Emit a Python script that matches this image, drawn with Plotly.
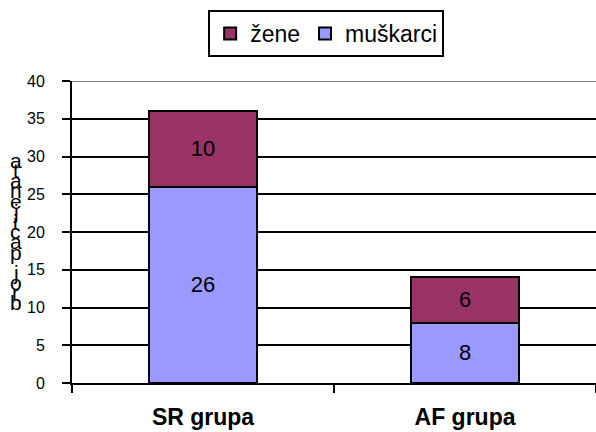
import plotly.graph_objects as go

# Chart data
groups = ["SR grupa", "AF grupa"]
muskarci = [26, 8]
zene = [10, 6]
y_ticks = [0, 5, 10, 15, 20, 25, 30, 35, 40]
axis_title = "broj pacijenata"

FONT = "Liberation Sans, Arial, sans-serif"
BAR_EDGE = dict(color="black", width=2)

fig = go.Figure()
fig.add_bar(
    x=groups, y=muskarci, name="muškarci",
    marker=dict(color="#9999FF", line=BAR_EDGE),
    text=muskarci, textposition="inside", insidetextanchor="middle",
    textangle=0, textfont=dict(family=FONT, size=22, color="black"),
)
fig.add_bar(
    x=groups, y=zene, name="žene",
    marker=dict(color="#993366", line=BAR_EDGE),
    text=zene, textposition="inside", insidetextanchor="middle",
    textangle=0, textfont=dict(family=FONT, size=22, color="black"),
)

# Vertical stacked-letter axis title, first letter at the bottom
n = len(axis_title)
y_bottom, y_top = 10.6, 29.5
for i, ch in enumerate(axis_title):
    if ch == " ":
        continue
    fig.add_annotation(
        x=-0.107, xref="paper", xanchor="center",
        y=y_bottom + i * (y_top - y_bottom) / (n - 1), yref="y", yanchor="middle",
        text=ch, showarrow=False,
        font=dict(family=FONT, size=21, color="black"),
    )

# Plot-area top border
fig.add_shape(type="line", xref="paper", x0=0, x1=1, yref="y", y0=40, y1=40,
              line=dict(color="#808080", width=2))

fig.update_layout(
    width=596, height=432,
    margin=dict(l=72, r=0, t=81, b=49),
    paper_bgcolor="white", plot_bgcolor="white",
    barmode="stack", bargap=0.59,
    font=dict(family=FONT, color="black"),
    showlegend=True,
    legend=dict(
        orientation="h", traceorder="reversed",
        x=0.485, xanchor="center", xref="paper",
        y=1.235, yanchor="top", yref="paper",
        bgcolor="white", bordercolor="black", borderwidth=2,
        font=dict(family=FONT, size=23, color="black"),
        itemwidth=30, tracegroupgap=0,
    ),
    xaxis=dict(
        range=[-0.5, 1.5], showline=True, linecolor="black", linewidth=2,
        ticks="outside", tickson="boundaries", ticklen=8, tickwidth=2,
        tickcolor="black", showgrid=False, zeroline=False,
        tickfont=dict(family=FONT, size=23, color="black", weight="bold"),
        ticklabelstandoff=12,
    ),
    yaxis=dict(
        range=[0, 40], tickvals=y_ticks, showline=True, linecolor="black",
        linewidth=2, ticks="outside", ticklen=8, tickwidth=2, tickcolor="black",
        showgrid=True, gridcolor="black", gridwidth=2, zeroline=False,
        tickfont=dict(family=FONT, size=16, color="black"),
        ticklabelstandoff=14,
    ),
)

fig.write_html("out.html")
